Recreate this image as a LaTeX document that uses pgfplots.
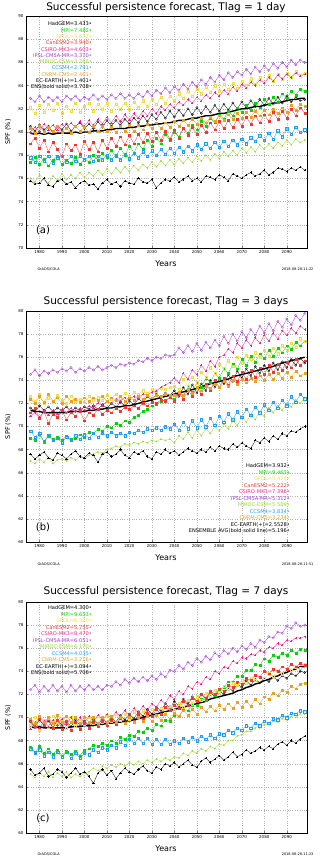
\documentclass[border=0pt]{standalone}
\usepackage{fontspec}
\setmainfont{DejaVu Sans}
\usepackage{pgfplots}
\usepackage{pgfplotstable}
\pgfplotsset{compat=1.18}

\definecolor{cMpi}{RGB}{0,215,0}
\definecolor{cGfdl}{RGB}{238,222,70}
\definecolor{cCan}{RGB}{250,50,50}
\definecolor{cCsiro}{RGB}{250,30,140}
\definecolor{cIpsl}{RGB}{165,55,225}
\definecolor{cMiroc}{RGB}{150,220,40}
\definecolor{cCcsm}{RGB}{30,160,250}
\definecolor{cCnrm}{RGB}{235,160,30}

% Tlag = 1 day
\pgfplotstableread{
yr   had  mpi  gfdl can  csiro ipsl miroc ccsm cnrm ec   ens
1976 80.5 77.4 82.1 79.0 80.0 82.9 76.0 77.8 80.3 75.8 79.9
1978 80.1 77.8 81.6 79.5 80.4 82.6 75.7 77.4 79.9 75.5 79.8
1980 80.6 77.2 82.3 78.6 80.1 83.1 76.3 77.9 80.5 75.6 79.9
1982 80.2 77.7 81.7 79.3 80.7 82.6 75.9 77.5 80.0 76.0 79.8
1984 80.5 77.1 82.4 78.3 80.2 83.0 75.6 77.9 80.4 75.4 79.9
1986 79.9 77.6 81.9 79.1 80.6 82.7 76.2 77.3 80.1 75.3 79.8
1988 80.5 77.9 82.5 78.5 80.2 83.0 75.8 77.8 80.5 75.8 79.9
1990 80.2 77.2 81.6 77.9 80.7 82.6 76.4 77.9 80.0 75.9 79.9
1992 80.7 77.6 82.2 79.0 80.3 83.1 75.9 77.4 80.3 75.5 79.9
1994 80.1 77.3 81.8 78.4 80.8 82.8 76.3 77.9 79.9 75.7 79.9
1996 80.5 77.8 82.5 78.9 80.4 83.1 76.0 77.5 80.5 75.2 80.0
1998 80.8 77.2 81.7 78.1 80.9 82.7 76.5 77.9 80.1 75.6 79.9
2000 80.3 77.7 82.2 79.2 80.5 83.0 76.1 77.6 80.4 75.8 80.0
2002 80.7 77.4 82.5 78.5 81.0 82.8 76.5 77.9 80.0 75.4 80.0
2004 80.3 78.0 81.8 79.1 80.6 83.2 76.2 77.5 80.5 75.5 80.1
2006 80.9 77.6 82.4 78.3 81.1 82.8 76.7 77.9 80.1 75.1 80.1
2008 80.4 78.2 82.0 79.3 80.7 83.1 76.3 77.6 80.5 75.6 80.1
2010 81.0 77.8 82.5 78.6 81.3 82.8 76.8 78.0 80.1 75.9 80.2
2012 80.5 78.4 81.8 79.5 80.8 83.2 76.4 77.6 80.4 75.5 80.2
2014 81.0 77.9 82.4 78.8 81.4 82.9 76.9 78.0 80.0 75.7 80.3
2016 80.6 78.6 82.0 79.6 80.9 83.3 76.5 77.6 80.5 75.3 80.3
2018 81.1 78.0 82.5 78.9 81.5 82.9 77.0 78.1 80.1 75.8 80.3
2020 80.7 78.8 82.0 79.7 81.0 83.2 76.6 77.7 80.6 75.6 80.4
2022 81.2 78.2 82.6 79.0 81.6 82.9 77.1 78.2 80.1 75.5 80.4
2024 80.8 79.0 82.1 79.8 81.2 83.3 76.7 77.8 80.6 76.0 80.5
2026 81.4 78.5 82.7 79.1 81.8 83.0 77.2 78.3 80.2 75.7 80.5
2028 80.9 79.3 82.2 79.9 81.4 83.5 76.9 77.9 80.7 75.6 80.6
2030 81.5 78.8 82.8 79.2 82.0 83.1 77.4 78.4 80.3 75.9 80.6
2032 81.1 79.5 82.4 80.0 81.6 83.6 77.0 78.0 80.8 75.2 80.7
2034 81.7 79.0 83.0 79.3 82.2 83.3 77.5 78.5 80.3 75.6 80.7
2036 81.2 79.8 82.5 80.1 81.9 83.8 77.1 78.1 80.8 75.9 80.8
2038 81.8 79.3 83.1 79.4 82.4 83.4 77.6 78.6 80.4 75.8 80.8
2040 81.3 80.0 82.7 80.2 82.1 83.9 77.2 78.2 80.9 76.1 80.9
2042 81.9 79.6 83.3 79.5 82.6 83.6 77.7 78.7 80.5 75.7 81.0
2044 81.4 80.3 82.9 80.3 82.3 84.1 77.3 78.3 81.0 75.9 81.0
2046 82.0 79.9 83.5 79.7 82.8 83.7 77.8 78.8 80.6 76.2 81.1
2048 81.5 80.6 83.1 80.4 82.5 84.3 77.4 78.4 81.1 75.8 81.2
2050 82.1 80.2 83.7 79.8 83.0 83.9 77.9 78.9 80.7 76.0 81.2
2052 81.6 80.9 83.3 80.6 82.7 84.5 77.5 78.5 81.2 75.7 81.3
2054 82.2 80.5 83.9 80.0 83.2 84.1 78.0 79.0 80.8 76.2 81.4
2056 81.7 81.2 83.4 80.8 82.9 84.7 77.6 78.6 81.3 76.1 81.4
2058 82.3 80.8 84.0 80.2 83.4 84.3 78.1 79.1 80.9 75.9 81.5
2060 81.8 81.5 83.5 80.9 83.1 84.9 77.7 78.7 81.4 76.3 81.6
2062 82.4 81.1 84.1 80.3 83.6 84.5 78.3 79.2 81.0 76.1 81.6
2064 81.9 81.8 83.7 81.0 83.3 85.1 77.9 78.8 81.5 75.8 81.7
2066 82.5 81.4 84.2 80.4 83.9 84.7 78.4 79.3 81.1 76.4 81.8
2068 82.0 82.1 83.8 81.1 83.5 85.2 78.0 78.9 81.6 76.2 81.9
2070 82.6 81.7 84.4 80.5 84.1 84.9 78.6 79.4 81.2 76.0 82.0
2072 82.1 82.3 84.0 81.3 83.8 85.4 78.2 79.0 81.7 76.3 82.0
2074 82.7 81.9 84.6 80.7 84.3 85.0 78.7 79.5 81.3 76.5 82.1
2076 82.2 82.5 84.1 81.4 84.0 85.6 78.3 79.2 81.8 76.2 82.2
2078 82.8 82.1 84.7 80.8 84.5 85.2 78.9 79.7 81.4 76.4 82.2
2080 82.3 82.8 84.3 81.5 84.2 85.7 78.5 79.3 81.9 76.7 82.3
2082 82.9 82.4 84.9 80.9 84.7 85.3 79.0 79.9 81.5 76.3 82.4
2084 82.4 83.0 84.4 81.7 84.4 85.9 78.6 79.4 82.0 76.5 82.5
2086 83.0 82.6 85.0 81.1 84.9 85.5 79.1 80.1 81.6 76.9 82.5
2088 82.5 83.3 84.6 81.8 84.6 86.0 78.8 79.6 82.1 76.8 82.6
2090 83.1 82.9 85.1 81.2 85.0 85.6 79.3 80.3 81.7 76.6 82.7
2092 82.6 83.5 84.7 82.0 84.7 86.2 78.9 79.8 82.3 76.9 82.8
2094 83.0 83.2 85.2 81.4 85.1 85.8 79.4 80.4 81.9 76.7 82.8
2096 82.7 83.7 84.9 82.1 84.8 86.2 79.1 80.0 82.4 77.0 82.9
2098 82.8 83.5 85.1 81.6 85.0 86.0 79.3 80.2 82.2 76.7 82.9
}\tabA

% Tlag = 3 days
\pgfplotstableread{
yr   had  mpi  gfdl can  csiro ipsl miroc ccsm cnrm ec   ens
1976 71.6 69.0 72.6 71.2 70.9 74.5 67.0 69.6 72.4 67.6 71.4
1978 71.3 68.8 72.2 71.6 71.2 74.9 66.8 69.1 72.0 67.2 71.3
1980 71.8 69.3 72.8 70.7 70.8 74.4 67.2 69.4 72.6 67.5 71.3
1982 71.4 68.7 72.0 71.3 71.3 74.8 66.9 68.7 72.1 67.8 71.2
1984 71.7 69.2 72.5 70.3 71.0 74.6 67.3 69.2 72.8 67.3 71.2
1986 71.3 68.9 72.1 71.1 71.4 74.9 66.8 68.8 72.2 67.1 71.2
1988 71.6 69.1 72.7 70.8 71.1 74.7 67.1 69.0 72.5 67.7 71.2
1990 71.4 68.8 72.3 71.4 71.5 75.0 67.2 68.6 72.0 67.5 71.2
1992 71.7 69.2 72.0 70.6 71.2 74.8 67.0 69.1 72.6 67.2 71.2
1994 71.3 68.9 72.6 71.2 71.6 75.1 67.3 68.8 72.2 67.6 71.3
1996 71.6 69.0 72.2 70.9 71.3 74.7 67.1 69.2 72.4 67.9 71.3
1998 71.4 69.3 72.4 71.3 71.6 75.0 67.4 68.9 72.1 67.4 71.3
2000 71.7 69.1 72.1 70.5 71.4 74.8 67.2 69.3 72.5 67.3 71.3
2002 71.5 69.5 72.6 71.2 71.8 75.1 67.5 69.0 72.2 67.7 71.4
2004 71.8 69.4 72.3 71.0 71.6 74.9 67.6 69.4 72.5 67.5 71.4
2006 71.5 69.8 72.5 71.5 72.0 75.2 67.8 69.1 72.3 66.9 71.5
2008 71.9 69.6 72.3 71.1 71.8 74.9 67.7 69.4 72.6 67.6 71.5
2010 71.6 70.0 72.7 71.4 72.2 75.1 68.0 69.2 72.2 67.8 71.6
2012 72.0 69.9 72.4 71.2 72.0 75.3 68.1 69.5 72.5 67.4 71.6
2014 71.7 70.3 72.8 71.6 72.4 75.1 68.3 69.2 72.3 67.6 71.7
2016 72.1 70.1 72.5 71.3 72.2 75.4 68.2 69.4 72.6 68.0 71.7
2018 71.8 70.5 72.9 71.7 72.5 75.3 68.5 69.2 72.2 67.5 71.8
2020 72.2 70.4 72.6 71.5 72.4 75.5 68.4 69.5 72.5 67.3 71.8
2022 71.9 70.8 73.0 71.8 72.6 75.4 68.6 69.4 72.3 67.8 71.9
2024 72.4 71.0 72.8 71.6 72.5 75.7 68.5 69.7 72.6 67.6 72.0
2026 72.1 71.3 73.1 72.0 72.8 75.6 68.7 69.5 72.4 67.9 72.1
2028 72.6 71.5 72.9 71.8 72.7 75.9 68.6 69.8 72.7 67.4 72.2
2030 72.3 71.8 73.2 72.1 73.0 75.7 68.8 69.7 72.5 67.2 72.3
2032 72.8 71.9 73.1 72.0 73.1 76.0 68.7 69.9 72.7 67.8 72.4
2034 72.5 72.2 73.3 72.3 73.4 75.9 68.9 69.7 72.6 67.6 72.5
2036 72.9 72.3 73.2 72.2 73.6 76.2 68.8 70.0 72.8 68.0 72.6
2038 72.7 72.5 73.4 72.5 73.8 76.1 68.9 69.8 72.7 67.7 72.7
2040 73.1 72.4 73.5 72.2 74.2 76.2 68.6 70.2 72.7 67.9 72.8
2042 72.6 73.0 73.2 72.9 73.8 76.8 69.2 69.7 73.0 67.5 72.9
2044 73.4 72.7 74.1 72.4 74.6 76.4 68.9 70.4 72.7 67.8 73.0
2046 72.8 73.4 73.5 73.2 74.1 77.0 69.5 69.8 73.2 68.1 73.1
2048 73.6 73.0 74.3 72.6 74.9 76.5 69.0 70.5 72.9 67.9 73.2
2050 72.9 73.8 73.8 73.4 74.5 77.2 69.7 69.9 73.4 67.7 73.3
2052 73.7 73.4 74.7 72.8 75.3 76.6 69.2 70.6 73.1 68.0 73.4
2054 73.1 74.2 74.3 73.7 74.8 77.3 69.8 70.0 73.5 67.8 73.6
2056 74.0 73.8 75.1 73.1 75.7 76.8 69.4 70.7 73.3 68.2 73.7
2058 73.4 74.6 74.6 74.0 75.2 77.5 70.0 70.1 73.7 67.9 73.8
2060 74.2 74.2 75.4 73.4 76.0 77.0 69.6 70.9 73.4 68.3 73.9
2062 73.7 75.0 75.0 74.2 76.2 77.8 70.2 70.4 73.9 68.1 74.0
2064 74.5 74.6 75.7 73.6 76.7 77.2 69.8 71.1 73.5 68.0 74.1
2066 73.9 75.4 75.2 74.4 76.4 78.0 70.5 70.6 74.0 68.5 74.3
2068 74.8 75.0 76.0 73.9 77.2 77.4 70.1 71.3 73.7 68.2 74.4
2070 74.2 75.8 75.5 74.7 76.8 78.2 70.8 70.8 74.1 68.6 74.5
2072 75.0 75.3 76.2 74.1 77.5 77.7 70.4 71.5 73.8 68.3 74.6
2074 74.4 76.1 75.8 74.9 77.0 78.4 71.0 71.0 74.2 68.1 74.7
2076 75.2 75.6 76.4 74.3 77.7 77.9 70.6 71.7 73.9 68.8 74.8
2078 74.6 76.3 76.0 75.1 77.2 78.7 71.3 71.2 74.4 68.6 74.9
2080 75.3 75.9 76.6 74.5 77.9 78.1 70.9 71.9 74.0 69.0 75.0
2082 74.8 76.6 76.1 75.3 77.4 78.9 71.6 71.4 74.5 68.7 75.1
2084 75.5 76.1 76.8 74.7 78.1 78.3 71.2 72.1 74.1 69.2 75.2
2086 74.9 76.8 76.3 75.4 77.6 79.1 71.8 71.6 74.6 68.9 75.4
2088 75.6 76.4 77.0 74.9 78.3 78.6 71.4 72.3 74.2 69.4 75.5
2090 75.1 77.0 76.6 75.6 77.9 79.3 72.0 71.8 74.7 69.2 75.6
2092 75.8 76.7 77.2 75.1 78.5 78.8 71.7 72.6 74.3 69.6 75.7
2094 75.3 77.3 76.9 75.8 78.1 79.6 72.3 72.1 74.8 69.5 75.8
2096 75.9 77.0 77.6 75.3 78.7 79.2 72.0 72.8 74.4 69.8 75.9
2098 75.5 77.4 77.4 75.7 78.4 79.8 72.5 72.4 74.6 70.0 76.0
}\tabB

% Tlag = 7 days
\pgfplotstableread{
yr   had  mpi  gfdl can  csiro ipsl miroc ccsm cnrm ec   ens
1976 69.6 67.4 69.3 69.8 69.0 72.4 65.1 67.3 69.9 65.5 69.2
1978 69.2 67.0 70.0 69.2 69.6 72.8 64.8 66.9 69.5 65.0 69.1
1980 69.8 67.5 68.9 69.9 69.1 72.2 65.2 67.2 70.1 65.2 69.2
1982 69.3 66.9 69.8 69.3 69.7 72.7 64.9 66.7 69.6 65.6 69.1
1984 69.7 67.3 69.2 70.0 69.2 72.3 65.3 67.0 70.0 64.9 69.1
1986 69.1 66.8 70.1 69.1 69.8 72.8 64.8 66.6 69.5 65.1 69.1
1988 69.8 67.2 69.4 69.8 69.3 72.3 65.2 67.0 70.2 65.5 69.1
1990 69.3 66.7 69.9 69.0 69.9 72.7 64.9 66.6 69.6 65.3 69.1
1992 69.7 67.1 69.1 69.7 69.4 72.2 65.3 67.0 70.1 64.8 69.1
1994 69.2 66.8 70.0 68.9 70.0 72.8 64.8 66.5 69.6 65.2 69.2
1996 69.8 67.1 69.3 69.6 69.5 72.3 65.1 66.9 70.0 65.6 69.2
1998 69.3 66.7 69.9 69.0 70.0 72.7 64.9 66.5 69.5 65.1 69.2
2000 69.7 67.2 69.4 69.5 69.6 72.4 65.2 66.9 70.0 65.3 69.3
2002 69.3 67.3 70.0 69.1 70.1 72.8 65.3 66.8 69.6 64.9 69.3
2004 69.8 67.6 69.5 69.6 69.7 72.4 65.6 67.2 70.0 64.3 69.3
2006 69.4 67.5 70.1 69.2 70.2 72.7 65.4 67.0 69.5 65.2 69.4
2008 69.9 67.8 69.6 69.7 69.8 72.4 65.8 67.4 70.0 65.5 69.4
2010 69.5 67.6 70.2 69.3 70.3 72.8 65.6 67.2 69.6 65.0 69.5
2012 70.0 68.0 69.7 69.8 69.9 72.7 65.9 67.6 70.1 65.4 69.5
2014 69.6 67.8 70.3 69.4 70.5 73.1 65.7 67.4 69.6 64.7 69.6
2016 70.2 68.3 69.8 69.9 70.1 72.8 66.0 67.9 70.0 65.2 69.6
2018 69.8 68.1 70.3 69.5 70.6 73.3 65.8 67.6 69.5 65.6 69.7
2020 70.3 68.5 69.9 70.0 70.2 73.0 66.1 68.1 70.0 65.3 69.7
2022 69.9 68.4 70.5 69.7 70.8 73.4 65.9 67.8 69.6 65.1 69.8
2024 70.5 68.8 70.0 70.2 70.4 73.1 66.2 68.2 70.0 65.5 69.9
2026 70.1 68.7 70.6 69.9 71.0 73.5 66.0 67.8 69.7 65.8 70.0
2028 70.7 69.1 70.1 70.4 70.6 73.2 66.3 68.2 70.1 65.4 70.1
2030 70.3 68.9 70.7 70.1 71.2 73.6 66.1 67.7 69.7 65.2 70.2
2032 70.9 69.4 70.2 70.7 70.9 73.3 66.4 68.1 70.2 65.7 70.3
2034 70.6 69.3 70.8 70.3 71.5 73.8 66.2 67.7 69.8 65.5 70.4
2036 71.2 69.8 70.4 70.9 71.2 73.5 66.5 68.1 70.3 66.0 70.5
2038 70.8 69.7 71.0 70.6 71.9 74.1 66.3 67.7 69.9 65.8 70.6
2040 71.4 70.2 70.6 71.1 71.6 74.0 66.6 68.0 70.4 66.1 70.7
2042 71.0 70.1 71.2 70.8 72.3 74.5 66.5 67.8 70.1 65.7 70.8
2044 71.6 70.7 70.9 71.4 72.0 74.2 66.9 68.2 70.6 66.0 70.9
2046 71.2 70.6 71.5 71.1 72.7 74.8 66.7 67.9 70.2 66.3 71.0
2048 71.8 71.1 71.2 71.7 72.5 74.5 67.1 68.3 70.7 65.9 71.1
2050 71.4 71.1 71.8 71.4 73.1 75.1 66.9 68.0 70.3 65.7 71.2
2052 72.0 71.6 71.5 72.0 72.9 74.8 67.3 68.4 70.9 66.2 71.3
2054 71.6 71.5 72.1 71.7 73.5 75.3 67.1 68.1 70.5 66.5 71.4
2056 72.2 72.0 71.9 72.3 73.3 75.0 67.5 68.5 71.0 66.1 71.6
2058 71.8 71.9 72.4 72.0 74.0 75.6 67.3 68.2 70.6 66.4 71.7
2060 72.3 72.4 72.2 72.5 73.8 75.3 67.7 68.6 71.1 66.7 71.8
2062 72.0 72.6 72.7 72.3 74.4 75.8 67.6 68.5 70.7 66.3 71.9
2064 72.6 73.1 72.5 72.8 74.3 75.5 68.0 68.9 71.2 66.6 72.0
2066 72.3 73.1 73.0 72.6 74.9 76.0 68.0 68.7 70.8 67.0 72.1
2068 72.9 73.6 72.8 73.1 74.7 75.7 68.4 69.1 71.3 66.6 72.3
2070 72.6 73.6 73.2 72.9 75.2 76.2 68.5 68.9 70.9 66.8 72.4
2072 73.2 74.1 73.0 73.4 75.1 75.9 68.8 69.3 71.4 67.2 72.6
2074 72.8 74.1 73.4 73.2 75.5 76.4 68.8 69.1 71.0 66.9 72.7
2076 73.3 74.6 73.2 73.7 75.4 76.1 69.1 69.5 71.6 67.1 72.9
2078 73.0 74.5 73.6 73.5 75.8 76.7 69.1 69.3 71.2 67.4 73.0
2080 73.4 75.1 73.4 74.0 75.7 76.5 69.4 69.7 71.8 67.2 73.2
2082 73.1 74.9 73.8 73.8 76.1 77.0 69.4 69.5 71.6 67.5 73.3
2084 73.5 75.4 73.6 74.2 76.0 76.9 69.7 69.9 72.1 67.3 73.5
2086 73.2 75.2 74.0 74.0 76.4 77.4 69.6 69.8 71.9 67.7 73.6
2088 73.6 75.6 73.8 74.4 76.3 77.3 69.9 70.2 72.4 67.9 73.8
2090 73.4 75.4 74.2 74.2 76.7 77.9 69.8 70.0 72.2 67.6 73.9
2092 73.8 75.8 74.1 74.6 76.6 77.7 70.1 70.4 72.7 68.0 74.1
2094 73.6 75.6 74.4 74.4 76.9 78.2 70.0 70.3 72.5 67.8 74.2
2096 74.0 75.9 74.3 74.7 76.9 77.9 70.3 70.6 72.9 68.1 74.4
2098 73.9 75.8 74.6 74.5 77.0 78.0 70.3 70.5 73.0 68.4 74.4
}\tabC

\pgfplotsset{
  panel/.style={
    anchor=south west, scale only axis, width=281pt,
    xmin=1974, xmax=2099, xtick={1980,1990,...,2090},
    xmajorgrids, ymajorgrids,
    grid style={dotted, black!30, line width=0.3pt},
    axis line style={line width=0.5pt},
    tick align=inside, major tick length=1.5pt,
    tick label style={font=\fontsize{4}{4}\selectfont},
    /pgf/number format/assume math mode=true,
    /pgf/number format/1000 sep={},
    xticklabel style={yshift=1pt},
    yticklabel style={xshift=1pt},
  },
}

\newcommand{\allseries}[1]{%
  \addplot[black, line width=0.3pt, mark=o, mark size=1.1pt] table[x=yr,y=had]{#1};
  \addplot[cMpi, line width=0.3pt, mark=square*, mark size=0.9pt] table[x=yr,y=mpi]{#1};
  \addplot[cGfdl, line width=0.3pt, mark=square, mark size=1.1pt] table[x=yr,y=gfdl]{#1};
  \addplot[cCan, line width=0.3pt, mark=square*, mark size=0.9pt] table[x=yr,y=can]{#1};
  \addplot[cCsiro, line width=0.3pt, mark=+, mark size=1.1pt] table[x=yr,y=csiro]{#1};
  \addplot[cIpsl, line width=0.3pt, mark=o, mark size=1.2pt] table[x=yr,y=ipsl]{#1};
  \addplot[cMiroc, line width=0.3pt, mark=*, mark size=0.7pt] table[x=yr,y=miroc]{#1};
  \addplot[cCcsm, line width=0.3pt, mark=square, mark size=1.2pt] table[x=yr,y=ccsm]{#1};
  \addplot[cCnrm, line width=0.3pt, mark=square*, mark size=0.9pt] table[x=yr,y=cnrm]{#1};
  \addplot[black, line width=0.3pt, mark=+, mark size=1.1pt] table[x=yr,y=ec]{#1};
  \addplot[black, line width=1.4pt, no marks] table[x=yr,y=ens]{#1};
}

\newcommand{\legline}[4]{\node[anchor=east, inner sep=0pt, font=\fontsize{5.1}{5.5}\selectfont, text=#3] at (#1pt,#2pt) {#4};}
\newcommand{\ttl}{\fontsize{10.5}{12}\selectfont}
\newcommand{\yrs}{\fontsize{8}{9}\selectfont}

\begin{document}
\begin{tikzpicture}[x=1pt,y=1pt]
\path[use as bounding box] (0,0) rectangle (320,861);

% ---------- (a) ----------
\begin{axis}[panel, at={(26pt,613pt)}, height=232pt, ymin=70, ymax=90, ytick={70,72,...,90}]
\allseries{\tabA}
\end{axis}
\node[font=\ttl] at (166,853) {Successful persistence forecast, Tlag = 1 day};
\node[font=\yrs] at (166,597) {Years};
\node[font=\fontsize{6.5}{7}\selectfont, rotate=90] at (8,729) {SPF (\%)};
\node[font=\fontsize{10}{11}\selectfont] at (43,631) {(a)};
\node[font=\fontsize{3.5}{4}\selectfont, anchor=west] at (34,592) {GrADS/COLA};
\node[font=\fontsize{3.5}{4}\selectfont, anchor=east] at (317,592) {2018-08-28-11:22};
\legline{92}{837}{black}{HadGEM=3.433•}
\legline{92}{830.7}{cMpi}{MPI=7.482•}
\legline{92}{824.4}{cGfdl}{GFDL=3.632•}
\legline{92}{818.1}{cCan}{CanESM2=3.940•}
\legline{92}{811.8}{cCsiro}{CSIRO-MK3=4.603•}
\legline{92}{805.5}{cIpsl}{IPSL-CM5A-MR=3.370•}
\legline{92}{799.2}{cMiroc}{MIROC-ESM=3.768•}
\legline{92}{792.9}{cCcsm}{CCSM4=2.791•}
\legline{92}{786.6}{cCnrm}{CNRM-CM5=2.461•}
\legline{92}{780.3}{black}{EC-EARTH(+)=1.401•}
\legline{92}{774.0}{black}{ENS(bold solid)=3.708•}

% ---------- (b) ----------
\begin{axis}[panel, at={(26pt,319pt)}, height=231pt, ymin=60, ymax=80, ytick={60,62,...,80}]
\allseries{\tabB}
\end{axis}
\node[font=\ttl] at (166,559) {Successful persistence forecast, Tlag = 3 days};
\node[font=\yrs] at (166,303) {Years};
\node[font=\fontsize{6.5}{7}\selectfont, rotate=90] at (8,434.5) {SPF (\%)};
\node[font=\fontsize{10}{11}\selectfont] at (43,334) {(b)};
\node[font=\fontsize{3.5}{4}\selectfont, anchor=west] at (34,297) {GrADS/COLA};
\node[font=\fontsize{3.5}{4}\selectfont, anchor=east] at (317,297) {2018-08-28-11:51};
\legline{290}{395}{black}{HadGEM=3.932•}
\legline{290}{388.5}{cMpi}{MPI=9.463•}
\legline{290}{382}{cGfdl}{GFDL=5.424•}
\legline{290}{375.5}{cCan}{CanESM2=5.222•}
\legline{290}{369}{cCsiro}{CSIRO-MK3=7.396•}
\legline{290}{362.5}{cIpsl}{IPSL-CM5A-MR=5.312•}
\legline{290}{356}{cMiroc}{MIROC-ESM=5.589•}
\legline{290}{349.5}{cCcsm}{CCSM4=3.834•}
\legline{290}{343}{cCnrm}{CNRM-CM5=3.234•}
\legline{290}{336.5}{black}{EC-EARTH(+)=2.5528•}
\legline{290}{330}{black}{ENSEMBLE AVG(bold solid line)=5.196•}

% ---------- (c) ----------
\begin{axis}[panel, at={(26pt,28pt)}, height=231pt, ymin=60, ymax=80, ytick={60,62,...,80}]
\allseries{\tabC}
\end{axis}
\node[font=\ttl] at (166,269) {Successful persistence forecast, Tlag = 7 days};
\node[font=\yrs] at (166,12) {Years};
\node[font=\fontsize{6.5}{7}\selectfont, rotate=90] at (8,143.5) {SPF (\%)};
\node[font=\fontsize{10}{11}\selectfont] at (43,43) {(c)};
\node[font=\fontsize{3.5}{4}\selectfont, anchor=west] at (34,7) {GrADS/COLA};
\node[font=\fontsize{3.5}{4}\selectfont, anchor=east] at (317,7) {2018-08-28-11:23};
\legline{92}{253}{black}{HadGEM=4.300•}
\legline{92}{246.5}{cMpi}{MPI=9.653•}
\legline{92}{240}{cGfdl}{GFDL=6.320•}
\legline{92}{233.5}{cCan}{CanESM2=5.755•}
\legline{92}{227}{cCsiro}{CSIRO-MK3=8.470•}
\legline{92}{220.5}{cIpsl}{IPSL-CM5A-MR=6.051•}
\legline{92}{214}{cMiroc}{MIROC-ESM=6.170•}
\legline{92}{207.5}{cCcsm}{CCSM4=4.035•}
\legline{92}{201}{cCnrm}{CNRM-CM5=3.216•}
\legline{92}{194.5}{black}{EC-EARTH(+)=3.094•}
\legline{92}{188}{black}{ENS(bold solid)=5.706•}
\end{tikzpicture}
\end{document}
